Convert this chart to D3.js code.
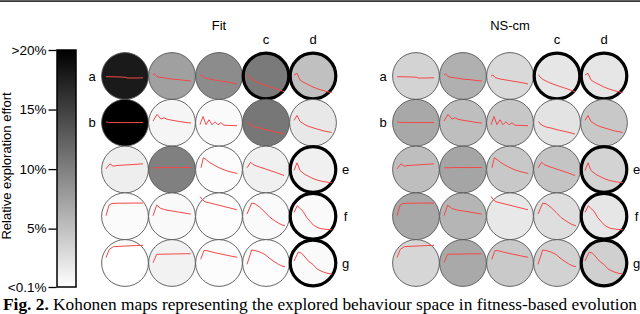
<!DOCTYPE html>
<html>
<head>
<meta charset="utf-8">
<script src="https://cdn.jsdelivr.net/npm/d3@7"></script>
<style>
  body { margin: 0; background: #fff; }
  svg { display: block; }
  text { font-family: "Liberation Sans", Arial, sans-serif; fill: #000; }
  .caption { font-family: "Liberation Serif", "DejaVu Serif", serif; }
</style>
</head>
<body>
<div id="chart"></div>
<script>
/* CONSTANTS AND GLOBALS */
const width = 640,
  height = 314,
  cellR = 23.4;

/* DATA */
// relative exploration effort (%) per map node, rows top to bottom
const fitEffort = [
  [18.0, 7.5, 9.1, 10.5, 5.0],
  [20.0, 0.9, 0.5, 10.7, 1.9],
  [1.4, 10.0, 0.3, 1.3, 1.3],
  [0.4, 0.6, 0.25, 0.5, 0.5],
  [0.1, 1.1, 0.3, 0.25, 0.5]
];
const nsEffort = [
  [3.5, 6.3, 3.1, 2.05, 2.05],
  [6.9, 5.2, 4.5, 2.3, 4.4],
  [5.2, 7.1, 4.4, 4.7, 3.5],
  [6.9, 5.9, 1.9, 2.7, 2.05],
  [3.3, 6.8, 4.3, 3.6, 3.8]
];

// prototype behaviour of each node: [time, value] pairs (same in both maps)
const prototypes = [
  [
    [[1, -0.7], [8, -0.8], [16, -1.0], [21, -1.3], [22, -2], [30, -2], [38, -1.8]],
    [[1, 1], [2.5, 2.5], [4, 0.5], [6, -1], [10, -1.5], [16, -2.5], [22, -3.3], [28, -3.8], [34, -4.5], [39, -5]],
    [[1, 0], [3, 1], [5, -1.5], [10, -3], [16, -4], [22, -5], [28, -6], [34, -7], [38, -8]],
    [[1.5, 1.3], [3, -1], [6, -3.5], [10, -5.5], [14, -7.3], [20, -9.5], [26, -11.5], [32, -13.5], [38, -15.7]],
    [[1, 1], [4, 2.7], [7, -4], [10, -6], [15, -8.5], [20, -11], [25, -13], [30, -14.5], [35, -15.8], [38.7, -16.7]]
  ],
  [
    [[1, 0.3], [2, 1], [3.5, 0.3], [12, 0.2], [25, 0.2], [38, 0.2]],
    [[1, 1.7], [5, 8.3], [9, 3.7], [12, 5], [15, 3.5], [20, 2.5], [26, 1.5], [32, 0.5], [39, -0.3]],
    [[1, -2], [4, 6.3], [7, -2], [10, 3], [13, -2], [16, 1], [19, -2], [22, 0], [25, -2.5], [32, -2.7], [38, -3]],
    [[1.5, 1.3], [3, -1], [6, -3], [10, -4.5], [15, -5.5], [20, -7], [26, -8.3], [32, -9.7], [38, -11.3]],
    [[1, 2.3], [4, 7.3], [7, 1.3], [12, -2], [16, -3.8], [20, -5], [25, -6.5], [30, -8], [35, -9], [38.7, -9.7]]
  ],
  [
    [[1, 0.7], [5, 5.7], [8, 3.3], [12, 4], [20, 4.5], [28, 5], [38, 5.7]],
    [[1, 1.7], [8, 1.8], [16, 2], [24, 1.9], [32, 2], [38.7, 2]],
    [[2, 1.7], [4.3, 11.7], [7, 10], [10, 7.5], [14, 5], [19, 2.3], [24, 0], [30, -2], [38.3, -4]],
    [[1, 1.7], [4.7, 7.3], [7, 5], [12, 3], [18, 1], [24, -1], [30, -3], [38, -6]],
    [[1, -1], [4, 6.7], [7, -1], [12, -5], [16, -7], [20, -9], [25, -10.8], [30, -12], [35, -12.8], [38.7, -13.3]]
  ],
  [
    [[1, 0.5], [4, 11], [7, 12.8], [12, 13], [20, 13.1], [30, 13.2], [38, 13.2]],
    [[1, 0.5], [4.7, 11.2], [8.7, 7.8], [15, 6], [20, 5.3], [25, 4.5], [30, 3.6], [38.7, 2.2]],
    [[1, 19.8], [3, 17], [6, 14.5], [12, 13], [20, 11], [28, 9], [38, 6.5]],
    [[1, 2.2], [5.7, 13.2], [9, 12.5], [14, 8.8], [19, 4], [24, -1.2], [28, -4], [32.3, -6.8], [36, -8.7], [39, -9.5]],
    [[1, 3.8], [4.3, 10.5], [7, 7.8], [10, 5], [13.7, -1.2], [17, -5], [20.3, -8.8], [24, -11], [27, -12.2], [32, -13], [38.7, -13.5]]
  ],
  [
    [[1, 5.3], [4.3, 13.7], [8.3, 16.3], [15, 16.7], [25, 17.2], [38, 17.7]],
    [[1, 0.3], [4.7, 8.7], [10, 8.8], [20, 9], [30, 9.2], [38.7, 9.3]],
    [[1.7, 3.7], [5, 12.5], [8, 12.3], [15, 10.5], [22, 9], [30, 7.3], [38.3, 5.7]],
    [[1, -1.3], [5.7, 13], [9, 12.5], [14, 11], [19, 8.5], [24, 4.3], [28, 1.5], [32.3, -1.3], [36, -3], [39, -3.7]],
    [[1, 2], [5.3, 11], [8.7, 9.7], [12, 6], [15.3, 2], [20, -1.5], [23.7, -5.7], [27, -7.5], [30.3, -9], [34, -10.2], [38.7, -11]]
  ]
];

const mapTitles = ["Fit", "NS-cm"];
const leftLabels = [{ label: "a", row: 0 }, { label: "b", row: 1 }];
const marked = [
  { label: "c", row: 0, col: 3, side: "top" },
  { label: "d", row: 0, col: 4, side: "top" },
  { label: "e", row: 2, col: 4, side: "right" },
  { label: "f", row: 3, col: 4, side: "right" },
  { label: "g", row: 4, col: 4, side: "right" }
];
const effortTicks = [0.1, 5, 10, 15, 20];
const effortTickLabels = ["<0.1%", "5%", "10%", "15%", ">20%"];
const captionText = "Kohonen maps representing the explored behaviour space in fitness-based evolution";

/* SCALES */
const colorScale = d3.scaleLinear().domain([0.1, 20]).range(["#ffffff", "#000000"]).clamp(true);
const barScale = d3.scaleLinear().domain([0.1, 20]).range([287, 50]);
const rowY = d3.scaleLinear().domain([0, 4]).range([76, 263]);
const mapColX = [
  d3.scaleLinear().domain([0, 4]).range([125, 313]),
  d3.scaleLinear().domain([0, 4]).range([416, 604])
];
// local scales inside one node
const tScale = d3.scaleLinear().domain([0, 40]).range([-20, 20]);
const vScale = d3.scaleLinear().domain([-20, 20]).range([20, -20]);
const line = d3.line().x(d => tScale(d[0])).y(d => vScale(d[1]));

const svg = d3.select("#chart")
  .append("svg")
  .attr("width", width)
  .attr("height", height);

// rule at the top of the page
svg.append("rect")
  .attr("x", 0).attr("y", 0.3)
  .attr("width", width).attr("height", 1.6)
  .attr("fill", "#222");

/* COLOUR BAR */
const defs = svg.append("defs");
const grad = defs.append("linearGradient")
  .attr("id", "effortGrad")
  .attr("x1", 0).attr("y1", 1).attr("x2", 0).attr("y2", 0);
grad.selectAll("stop")
  .data(effortTicks)
  .join("stop")
  .attr("offset", d => (d - 0.1) / 19.9)
  .attr("stop-color", d => colorScale(d));

svg.append("rect")
  .attr("x", 57).attr("y", barScale(20))
  .attr("width", 19).attr("height", barScale(0.1) - barScale(20))
  .attr("fill", "url(#effortGrad)")
  .attr("stroke", "#000")
  .attr("stroke-width", 1.5);

const barAxis = d3.axisLeft(barScale)
  .tickValues(effortTicks)
  .tickFormat((d, i) => effortTickLabels[i])
  .tickSize(8)
  .tickSizeOuter(0)
  .tickPadding(2);

svg.append("g")
  .attr("transform", "translate(56.5,0)")
  .call(barAxis)
  .call(g => g.select(".domain").remove())
  .call(g => g.selectAll("line").attr("stroke", "#000").attr("stroke-width", 1.3))
  .call(g => g.selectAll("text")
    .attr("font-family", "Liberation Sans, Arial, sans-serif")
    .attr("font-size", 13.5)
    .attr("fill", "#000"));

svg.append("text")
  .attr("transform", "translate(11,166) rotate(-90)")
  .attr("text-anchor", "middle")
  .attr("font-size", 13)
  .text("Relative exploration effort");

/* KOHONEN MAPS */
[fitEffort, nsEffort].forEach((effort, m) => {
  const colX = mapColX[m];
  const g = svg.append("g").attr("class", "map");

  g.append("text")
    .attr("x", colX(2)).attr("y", 29.5)
    .attr("text-anchor", "middle")
    .attr("font-size", 13)
    .text(mapTitles[m]);

  const cells = effort.flatMap((row, r) => row.map((v, c) => ({
    r, c, v,
    marked: marked.some(k => k.row === r && k.col === c),
    proto: prototypes[r][c]
  })));

  const node = g.selectAll("g.node")
    .data(cells)
    .join("g")
    .attr("class", "node")
    .attr("transform", d => `translate(${colX(d.c)},${rowY(d.r)})`);

  node.append("circle")
    .attr("r", d => d.marked ? cellR - 0.6 : cellR)
    .attr("fill", d => colorScale(d.v))
    .attr("stroke", d => d.marked ? "#000" : "#555")
    .attr("stroke-width", d => d.marked ? 3.2 : 0.9);

  node.append("path")
    .attr("d", d => line(d.proto))
    .attr("fill", "none")
    .attr("stroke", "#f44848")
    .attr("stroke-width", 1);

  g.selectAll("text.left")
    .data(leftLabels)
    .join("text")
    .attr("class", "left")
    .attr("x", colX(0) - 33)
    .attr("y", d => rowY(d.row) + 4.5)
    .attr("text-anchor", "middle")
    .attr("font-size", 13)
    .text(d => d.label);

  g.selectAll("text.mark")
    .data(marked)
    .join("text")
    .attr("class", "mark")
    .attr("x", d => d.side === "top" ? colX(d.col) : colX(d.col) + 32.5)
    .attr("y", d => d.side === "top" ? 44 : rowY(d.row) + 4.5)
    .attr("text-anchor", "middle")
    .attr("font-size", 13)
    .text(d => d.label);
});

/* CAPTION */
const cap = svg.append("text")
  .attr("class", "caption")
  .attr("x", 3)
  .attr("y", 310)
  .attr("font-size", 16.5)
  .attr("textLength", 634)
  .attr("lengthAdjust", "spacingAndGlyphs");
cap.append("tspan").attr("font-weight", "bold").text("Fig. 2. ");
cap.append("tspan").text(captionText);
</script>
</body>
</html>
